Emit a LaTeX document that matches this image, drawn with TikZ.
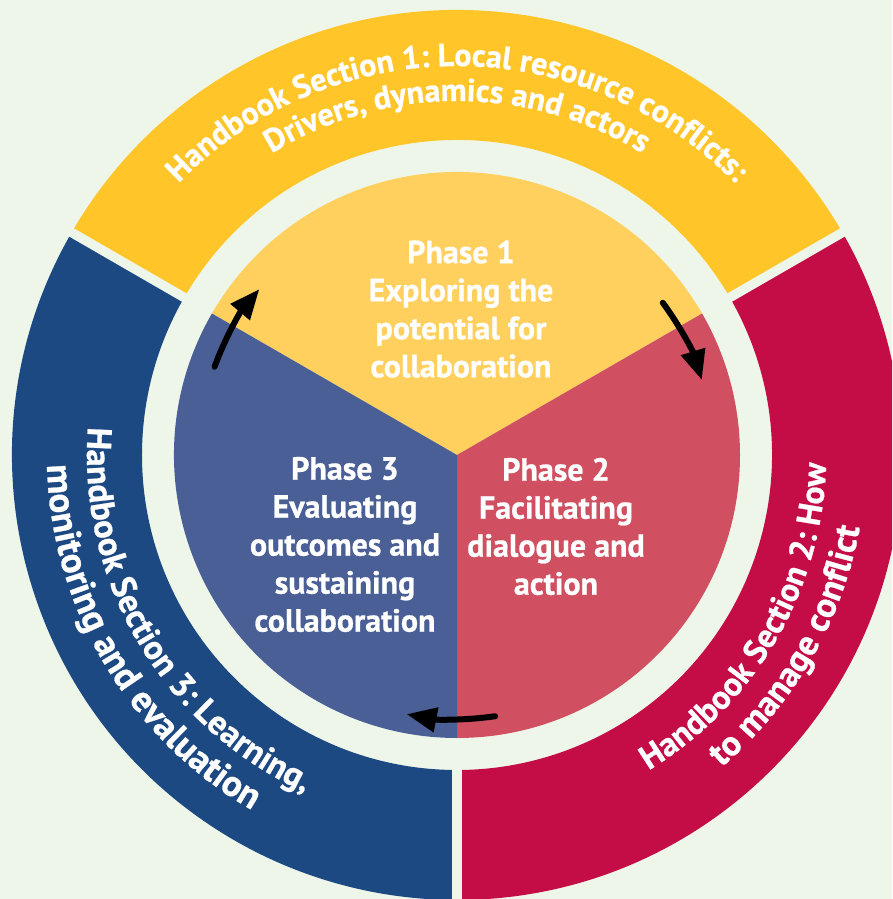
\documentclass[tikz,border=0pt]{standalone}
\usepackage{fontspec}
\setmainfont{PT Sans}[BoldFeatures={FakeBold=0.7}]
\usetikzlibrary{decorations.text,arrows.meta}
\definecolor{bg}{HTML}{EEF6EA}
\definecolor{ringY}{HTML}{FFC529}
\definecolor{ringB}{HTML}{1D4983}
\definecolor{ringR}{HTML}{C40D46}
\definecolor{pieY}{HTML}{FFD05E}
\definecolor{pieB}{HTML}{4A5F95}
\definecolor{pieR}{HTML}{D05062}
\newcommand\ringfont[1]{\fontsize{#1}{38}\selectfont\bfseries}
\begin{document}
\begin{tikzpicture}[x=1pt,y=1pt,
  phase/.style={text=white,align=center,inner sep=0pt,font=\fontsize{32}{38}\selectfont\bfseries},
  gapline/.style={draw=bg,line width=9.5pt},
  cyclearrow/.style={draw=black,line width=6pt,line cap=round,-{Triangle[length=30pt,width=24pt]}},
  ringtext/.style={decorate,decoration={text along path,text align=center,text color=white,text={#1}}}]
\clip (-457,-444) rectangle (435,455);
\fill[bg] (-457,-444) rectangle (435,455);
% outer ring segments
\fill[ringY] (30:445) arc[start angle=30,end angle=150,radius=445] -- (150:315) arc[start angle=150,end angle=30,radius=315] -- cycle;
\fill[ringR] (-90:445) arc[start angle=-90,end angle=30,radius=445] -- (30:315) arc[start angle=30,end angle=-90,radius=315] -- cycle;
\fill[ringB] (150:445) arc[start angle=150,end angle=270,radius=445] -- (270:315) arc[start angle=270,end angle=150,radius=315] -- cycle;
\draw[gapline] (30:300) -- (30:470);
\draw[gapline] (150:300) -- (150:470);
\draw[gapline] (270:300) -- (270:470);
% inner pie
\fill[pieY] (0,0) -- (30:283) arc[start angle=30,end angle=150,radius=283] -- cycle;
\fill[pieR] (0,0) -- (-90:283) arc[start angle=-90,end angle=30,radius=283] -- cycle;
\fill[pieB] (0,0) -- (150:283) arc[start angle=150,end angle=270,radius=283] -- cycle;
% ring texts
\path[ringtext={|\ringfont{32}|Handbook Section 1: Local resource conflicts:}] (180:389) arc[start angle=180,end angle=0,radius=389];
\path[ringtext={|\ringfont{32}|Drivers, dynamics and actors}] (180:354) arc[start angle=180,end angle=0,radius=354];
\path[ringtext={|\ringfont{33.6}|Handbook Section 2: How}] (-120:369) arc[start angle=-120,end angle=60,radius=369];
\path[ringtext={|\ringfont{35.5}|to manage conflict}] (-120:409) arc[start angle=-120,end angle=60,radius=409];
\path[ringtext={|\ringfont{34.5}|Handbook Section 3: Learning,}] (120.7:370) arc[start angle=120.7,end angle=300.7,radius=370];
\path[ringtext={|\ringfont{37}|monitoring and evaluation}] (120.7:410) arc[start angle=120.7,end angle=300.7,radius=410];
% phase texts
\node[phase] (p1) at (4,146) {Phase 1\\Exploring the\\potential for\\collaboration};
\node[phase] (p2) at (99,-71.5) {Phase 2\\Facilitating\\dialogue and\\action};
\node[phase] (p3) at (-112,-89.5) {Phase 3\\Evaluating\\outcomes and\\sustaining\\collaboration};
% cycle arrows
\coordinate (a1) at (160:258);
\coordinate (a2) at (36.5:256);
\coordinate (a3) at (-81.7:264);
\draw[cyclearrow] (a1) arc[start angle=160,end angle=140,radius=258];
\draw[cyclearrow] (a2) arc[start angle=36.5,end angle=17,radius=256];
\draw[cyclearrow] (a3) arc[start angle=-81.7,end angle=-101,radius=264];
\end{tikzpicture}
\end{document}
